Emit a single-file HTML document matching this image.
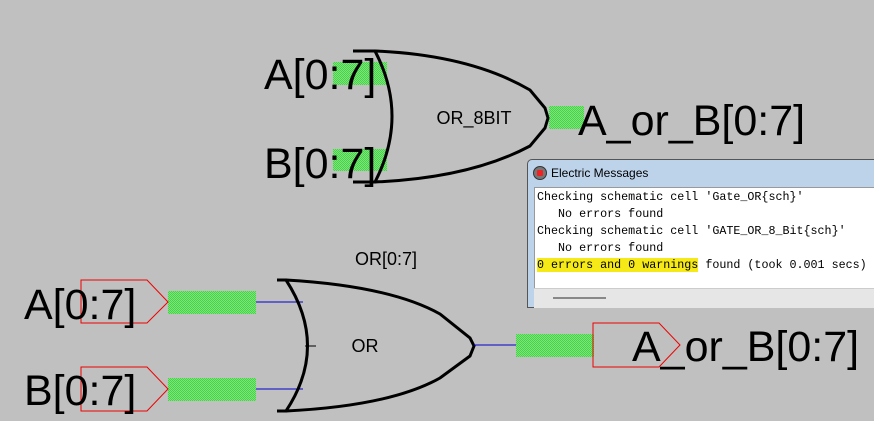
<!DOCTYPE html>
<html><head><style>
body{margin:0;width:874px;height:421px;overflow:hidden;background:#c0c0c0;}
svg{position:absolute;left:0;top:0;}
.win{position:absolute;left:527px;top:159px;width:360px;height:149px;background:#bcd3ea;border:1px solid #555;border-radius:5px 0 0 0;box-sizing:border-box;}
.title{position:absolute;left:23px;top:6px;font:12px "Liberation Sans",sans-serif;color:#000;}
.icon{position:absolute;left:5px;top:6px;width:12px;height:12px;border-radius:50%;background:#777;border:1px solid #333;}
.icon div{position:absolute;left:3px;top:3px;width:6px;height:6px;background:#e22;border-radius:1px;}
.content{position:absolute;left:6px;top:27px;width:360px;height:101px;background:#fff;border:1px solid #999;}
.bottom{position:absolute;left:6px;top:128px;width:360px;height:19px;background:#e6e6e6;border-top:1px solid #ccc;}
.bottom div{position:absolute;left:19px;top:8px;width:53px;height:2px;background:#888;}
pre{margin:0;position:absolute;left:2px;top:1px;font:11.7px/17px "Liberation Mono",monospace;color:#000;}
.hl{background:#f5ea18;}
</style></head><body>
<svg width="874" height="421" viewBox="0 0 874 421">
<defs>
<pattern id="g" width="2" height="2" patternUnits="userSpaceOnUse">
<rect width="2" height="2" fill="#90d890"/><rect width="1" height="1" fill="#33e033"/><rect x="1" y="1" width="1" height="1" fill="#33e033"/>
</pattern>
</defs>
<g font-family="Liberation Sans, sans-serif" fill="#000">
<rect x="333" y="62" width="54" height="23" fill="url(#g)"/>
<rect x="333" y="149" width="54" height="22" fill="url(#g)"/>
<rect x="549" y="106" width="35" height="23" fill="url(#g)"/>
<path d="M353,51 L375,51 Q409,116 375,182 L353,182" fill="none" stroke="#000" stroke-width="3"/>
<path d="M375,51 Q470,55 530,90 L545,108 L548,118 L545,128 L530,146 Q470,178 375,182" fill="none" stroke="#000" stroke-width="3"/>
<text x="264" y="89" font-size="43">A[0:7]</text>
<text x="264" y="178" font-size="43">B[0:7]</text>
<text x="474" y="124" font-size="18" text-anchor="middle">OR_8BIT</text>
<text x="578" y="135" font-size="43">A_or_B[0:7]</text>
<rect x="168" y="291" width="88" height="23" fill="url(#g)"/>
<rect x="168" y="378" width="88" height="23" fill="url(#g)"/>
<line x1="256" y1="302" x2="303" y2="302" stroke="#00c" stroke-width="1"/>
<line x1="256" y1="389" x2="303" y2="389" stroke="#00c" stroke-width="1"/>
<polygon points="81,280 147,280 168,302 147,323 81,323" fill="none" stroke="#e00" stroke-width="1"/>
<polygon points="81,367 147,367 168,389 147,411 81,411" fill="none" stroke="#e00" stroke-width="1"/>
<path d="M277,280 L286,280 Q329,346 286,411 L277,411" fill="none" stroke="#000" stroke-width="3"/>
<line x1="305" y1="346" x2="316" y2="346" stroke="#000" stroke-width="1"/>
<path d="M286,280 Q390,286 440,314 L470,338 L474,346 L470,356 L440,378 Q390,406 286,411" fill="none" stroke="#000" stroke-width="3"/>
<line x1="474" y1="345" x2="516" y2="345" stroke="#00c" stroke-width="1"/>
<rect x="516" y="334" width="78" height="23" fill="url(#g)"/>
<polygon points="593,323 659,323 680,345 659,367 593,367" fill="none" stroke="#e00" stroke-width="1"/>
<text x="24" y="319" font-size="43">A[0:7]</text>
<text x="24" y="405" font-size="43">B[0:7]</text>
<text x="365" y="352" font-size="18" text-anchor="middle">OR</text>
<text x="386" y="265" font-size="18" text-anchor="middle">OR[0:7]</text>
<text x="632" y="361" font-size="43">A_or_B[0:7]</text>
</g>
</svg>
<div class="win">
<div class="icon"><div></div></div>
<div class="title">Electric Messages</div>
<div class="content"><pre>Checking schematic cell 'Gate_OR{sch}'
   No errors found
Checking schematic cell 'GATE_OR_8_Bit{sch}'
   No errors found
<span class="hl">0 errors and 0 warnings</span> found (took 0.001 secs)</pre></div>
<div class="bottom"><div></div></div>
</div>
</body></html>
